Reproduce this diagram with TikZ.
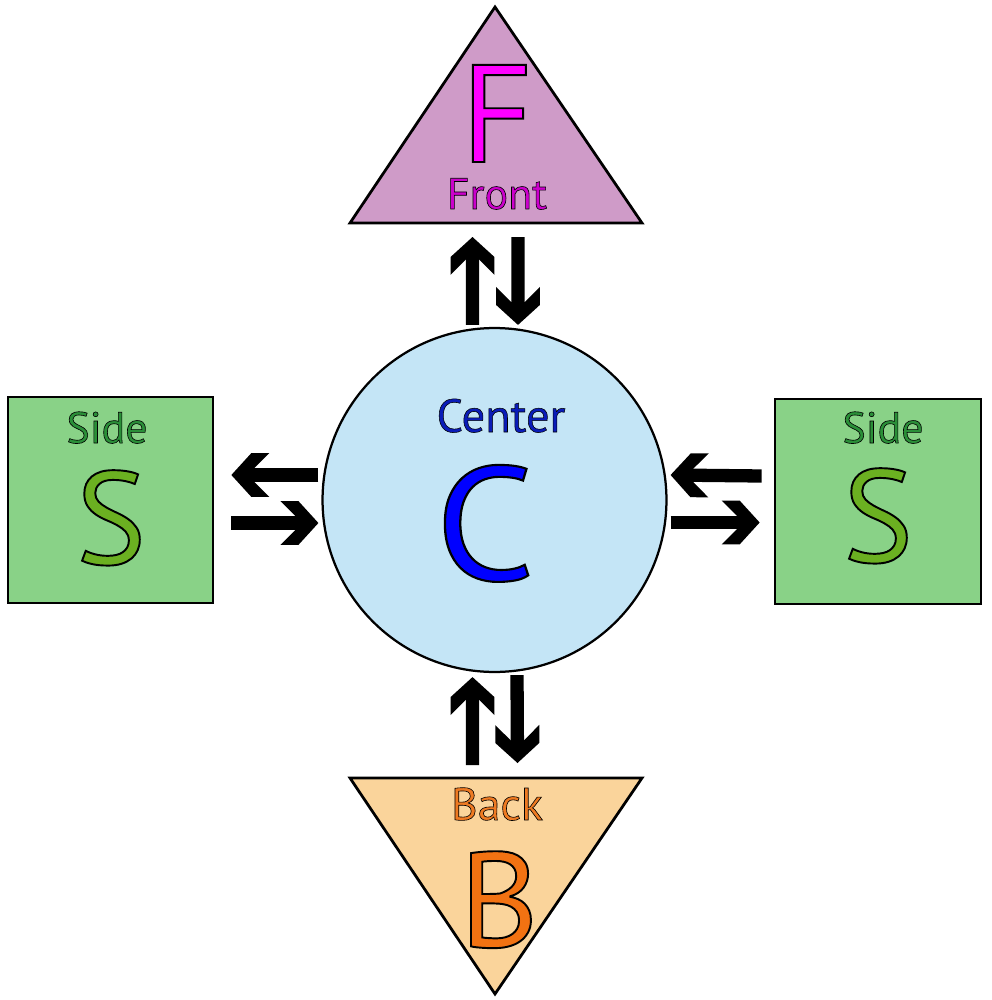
\documentclass[tikz,border=0pt]{standalone}
\usepackage{fontspec}
\setmainfont{PT Sans}
\usetikzlibrary{calc,arrows.meta}
\definecolor{frontfill}{HTML}{CF9BC8}
\definecolor{frontletter}{HTML}{FF00FF}
\definecolor{fronttext}{HTML}{CC00CC}
\definecolor{centerfill}{HTML}{C4E5F6}
\definecolor{centertext}{HTML}{0A1CB8}
\definecolor{centerletter}{HTML}{0000FF}
\definecolor{sidefill}{HTML}{89D287}
\definecolor{sidetext}{HTML}{2A8F38}
\definecolor{sideletter}{HTML}{6BB021}
\definecolor{backfill}{HTML}{FAD49B}
\definecolor{backtext}{HTML}{EE7A22}
\definecolor{backletter}{HTML}{F27212}
\pgfdeclarearrow{
  name=Chev,
  setup code={
    \pgfarrowssettipend{0pt}
    \pgfarrowssetlineend{-8.5pt}
    \pgfarrowssetbackend{-21.6pt}
    \pgfarrowshullpoint{0pt}{0pt}
    \pgfarrowshullpoint{-21.6pt}{12.5pt}
    \pgfarrowshullpoint{-21.6pt}{-12.5pt}
  },
  drawing code={
    \pgfpathmoveto{\pgfqpoint{0pt}{0pt}}
    \pgfpathlineto{\pgfqpoint{-11.4pt}{12.5pt}}
    \pgfpathlineto{\pgfqpoint{-21.6pt}{12.5pt}}
    \pgfpathlineto{\pgfqpoint{-12.9pt}{3.8pt}}
    \pgfpathlineto{\pgfqpoint{-12.9pt}{-3.8pt}}
    \pgfpathlineto{\pgfqpoint{-21.6pt}{-12.5pt}}
    \pgfpathlineto{\pgfqpoint{-11.4pt}{-12.5pt}}
    \pgfpathclose
    \pgfusepathqfill
  },
}
\newcommand\olt[2]{\special{pdf:literal direct 0 0 0 RG #1 w 2 Tr}#2\special{pdf:literal direct 0 Tr}}
\tikzset{
  shapeline/.style={draw=black, line width=0.055cm},
  bigarrow/.style={draw=black, color=black, line width=0.266cm, -{Chev}},
  lbl/.style={inner sep=0pt, outer sep=0pt, anchor=base},
}
\begin{document}
\begin{tikzpicture}[x=0.02cm, y=-0.02cm]
\useasboundingbox (0,0) rectangle (991,1000);
\fill[white] (0,0) rectangle (991,1000);

% Front triangle
\draw[shapeline, fill=frontfill, line join=miter] (495,7) -- (642,223) -- (350,223) -- cycle;
\coordinate (Fb) at (495,223);
\node[lbl, text=frontletter] (Fl) at (497,162) {\fontsize{79}{79}\selectfont\olt{1.1}{F}};
\node[lbl, text=fronttext] (Ft) at (497,209) {\fontsize{25}{25}\selectfont\olt{0.35}{Front}};

% Back triangle
\draw[shapeline, fill=backfill, line join=miter] (350,778) -- (642,778) -- (495,994) -- cycle;
\coordinate (Bb) at (495,778);
\node[lbl, text=backtext] (Bt) at (497,820) {\fontsize{26}{26}\selectfont\olt{0.35}{Back}};
\node[lbl, text=backletter] (Bl) at (499,947) {\fontsize{77}{77}\selectfont\olt{1.1}{B}};

% Center circle
\node[circle, shapeline, line width=0.045cm, fill=centerfill, minimum size=6.88cm, inner sep=0pt] (C) at (494.5,500) {};
\node[lbl, text=centertext] (Ct) at (501,432) {\fontsize{26.5}{26.5}\selectfont\olt{0.3}{Center}};
\node[lbl, text=centerletter] (Cl) at (485,580) {\fontsize{92}{92}\selectfont\olt{1.2}{\scalebox{1.08}[1]{C}}};

% Side squares
\node[rectangle, shapeline, fill=sidefill, minimum width=4.1cm, minimum height=4.12cm, inner sep=0pt] (SL) at (110.5,500) {};
\node[rectangle, shapeline, fill=sidefill, minimum width=4.12cm, minimum height=4.1cm, inner sep=0pt] (SR) at (878,501.5) {};
\node[lbl, text=sidetext] (SLt) at (107,443) {\fontsize{25}{25}\selectfont\olt{0.35}{Side}};
\node[lbl, text=sideletter] (SLl) at (111,564) {\fontsize{75}{75}\selectfont\olt{1.1}{S}};
\node[lbl, text=sidetext] (SRt) at (883,443) {\fontsize{25}{25}\selectfont\olt{0.35}{Side}};
\node[lbl, text=sideletter] (SRl) at (878,562) {\fontsize{75}{75}\selectfont\olt{1.1}{S}};

% Arrows top
\draw[bigarrow] ($(C.north)+(-22,-2)$) -- ($(Fb)+(-22.5,14)$);
\draw[bigarrow] ($(Fb)+(23,14)$) -- ($(C.north)+(23.5,-2)$);
% Arrows bottom
\draw[bigarrow] ($(Bb)+(-22.5,-13)$) -- ($(C.south)+(-22,4)$);
\draw[bigarrow] ($(C.south)+(22.5,2)$) -- ($(Bb)+(22.5,-15)$);
% Arrows left
\draw[bigarrow] ($(C.west)+(-3,-25)$) -- ($(SL.east)+(17,-25)$);
\draw[bigarrow] ($(SL.east)+(17,23)$) -- ($(C.west)+(-3,23)$);
% Arrows right
\draw[bigarrow] ($(SR.west)+(-12,-25.5)$) -- ($(C.east)+(3,-25)$);
\draw[bigarrow] ($(C.east)+(3,22.5)$) -- ($(SR.west)+(-14,21)$);
\end{tikzpicture}
\end{document}
